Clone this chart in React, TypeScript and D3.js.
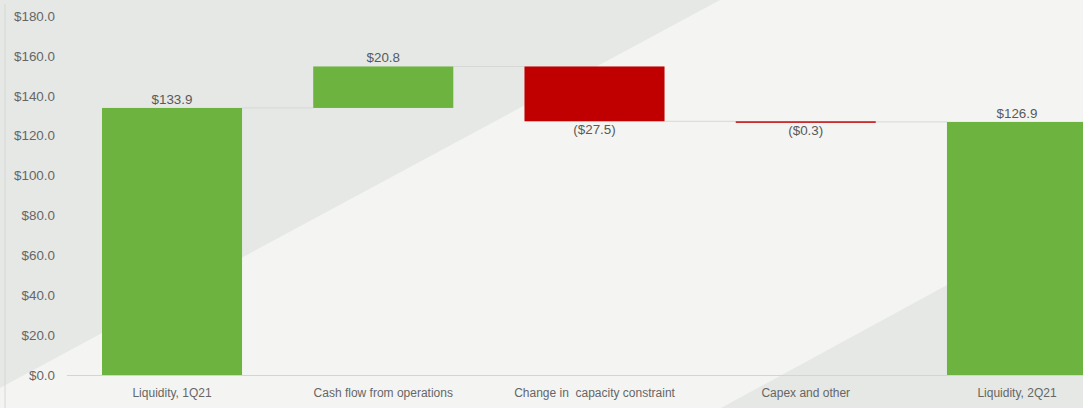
import { useRef, useEffect } from 'react';
import * as d3 from 'd3';

// dados do grafico de cascata
const categories = ['Liquidity, 1Q21', 'Cash flow from operations', 'Change in  capacity constraint', 'Capex and other', 'Liquidity, 2Q21'];
const values = [133.9, 20.8, -27.5, -0.3, 126.9];
const isTotal = [true, false, false, false, true];
const valueLabels = ['$133.9', '$20.8', '($27.5)', '($0.3)', '$126.9'];
const yTicks = [0, 20, 40, 60, 80, 100, 120, 140, 160, 180];

const W = 1083;
const H = 408;

const App = () => {
  const svgRef = useRef<SVGSVGElement | null>(null);

  useEffect(() => {
    const svg = d3.select(svgRef.current);
    svg.selectAll('*').remove();

    // fundo com as faixas diagonais
    svg.append('rect').attr('width', W).attr('height', H).attr('fill', '#f4f5f3');
    svg.append('polygon').attr('points', `0,0 720,0 0,388`).attr('fill', '#e5e8e5');
    svg.append('polygon').attr('points', `1083,211 1083,408 721,408`).attr('fill', '#e5e8e5');
    svg.append('line')
      .attr('x1', 5).attr('x2', 5).attr('y1', 4).attr('y2', H)
      .attr('stroke', '#d5d8d5').attr('stroke-width', 1);

    // calcular inicio/fim de cada barra
    let run = 0;
    const dados = categories.map((c, i) => {
      let start: number, end: number;
      if (isTotal[i]) { start = 0; end = values[i]; run = values[i]; }
      else { start = run; end = run + values[i]; run = end; }
      return { cat: c, value: values[i], start, end, label: valueLabels[i], total: isTotal[i] };
    });

    const x = d3.scaleBand<string>().domain(categories).range([66.4, 1122.6]).paddingInner(0.337).paddingOuter(0.1685);
    const y = d3.scaleLinear().domain([0, 180]).range([375, 16]);

    // eixo Y
    const gY = svg.append('g')
      .attr('transform', 'translate(58,0)')
      .call(d3.axisLeft(y).tickValues(yTicks).tickSize(0).tickPadding(3).tickFormat(d3.format('$.1f') as any));
    gY.select('.domain').remove();
    gY.selectAll('text')
      .attr('fill', '#666')
      .style('font-family', 'Liberation Sans, Arial, sans-serif')
      .style('font-size', '13.4px');

    // eixo X
    const gX = svg.append('g')
      .attr('transform', 'translate(0,375)')
      .call(d3.axisBottom(x).tickSize(0).tickSizeOuter(0).tickPadding(13));
    gX.select('.domain').attr('stroke', '#d3d5d3');
    gX.selectAll('text')
      .attr('fill', '#666')
      .style('font-family', 'Liberation Sans, Arial, sans-serif')
      .style('font-size', '12px')
      .style('white-space', 'pre');

    // linhas de ligação
    const g = svg.append('g');
    dados.slice(0, -1).forEach((d, i) => {
      const level = d.end;
      g.append('line')
        .attr('x1', (x(d.cat) as number) + x.bandwidth())
        .attr('x2', x(categories[i + 1]) as number)
        .attr('y1', y(level)).attr('y2', y(level))
        .attr('stroke', '#d6d8d6').attr('stroke-width', 1);
    });

    // barras
    g.selectAll('.bar')
      .data(dados)
      .join('rect')
      .attr('class', 'bar')
      .attr('x', (d) => x(d.cat) as number)
      .attr('y', (d) => y(Math.max(d.start, d.end)))
      .attr('width', x.bandwidth())
      .attr('height', (d) => Math.max(1.5, Math.abs(y(d.start) - y(d.end))))
      .attr('fill', (d) => (d.value >= 0 ? '#6db33f' : '#c00000'));

    // rotulos de valor
    g.selectAll('.lbl')
      .data(dados)
      .join('text')
      .attr('class', 'lbl')
      .attr('x', (d) => (x(d.cat) as number) + x.bandwidth() / 2)
      .attr('y', (d) => (d.value >= 0 ? y(d.end) - 4 : y(d.end) + 13))
      .attr('text-anchor', 'middle')
      .attr('fill', '#595959')
      .style('font-family', 'Liberation Sans, Arial, sans-serif')
      .style('font-size', '13.4px')
      .text((d) => d.label);
  }, []);

  return (
    <svg
      ref={svgRef}
      width={W}
      height={H}
      style={{ position: 'absolute', left: 0, top: 0, display: 'block' }}
    />
  );
};

export default App;
